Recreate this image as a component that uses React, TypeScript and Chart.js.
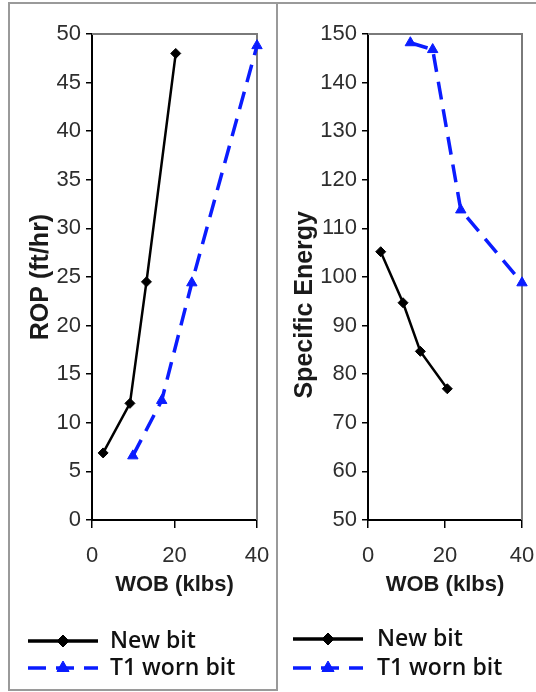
import React, { useEffect, useRef } from "react";
import { Chart, registerables } from "chart.js";

Chart.register(...registerables);

// ---- data ----
const legendLabels = ["New bit", "T1 worn bit"];
const xTickValues = [0, 20, 40];

// Left panel: ROP vs WOB
const ropNewWob = [2.7, 9.2, 13.2, 20.3];
const ropNewVal = [6.9, 12.0, 24.5, 48.0];
const ropWornWob = [9.9, 16.9, 24.2, 40.0];
const ropWornVal = [6.6, 12.3, 24.4, 48.8];
const ropTickValues = [0, 5, 10, 15, 20, 25, 30, 35, 40, 45, 50];

// Right panel: Specific Energy vs WOB
const seNewWob = [3.3, 9.1, 13.6, 20.6];
const seNewVal = [105.2, 94.7, 84.7, 77.0];
const seWornWob = [11.0, 16.8, 24.1, 40.0];
const seWornVal = [148.2, 146.8, 113.8, 98.8];
const seTickValues = [50, 60, 70, 80, 90, 100, 110, 120, 130, 140, 150];

const xTitle = "WOB (klbs)";
const ropTitle = "ROP (ft/hr)";
const seTitle = "Specific Energy";

const AXIS_FONT = "'Liberation Sans', Arial, sans-serif";
const TICK_COLOR = "#2e2e2e";
const BLUE = "#0a1cff";

const toPts = (xs: number[], ys: number[]) => xs.map((x, i) => ({ x, y: ys[i] }));

const boxPlugin = {
  id: "plotBox",
  beforeDatasetsDraw(chart: any) {
    const { ctx, chartArea } = chart;
    ctx.save();
    ctx.strokeStyle = "#7a7a7a";
    ctx.lineWidth = 2;
    ctx.beginPath();
    ctx.moveTo(chartArea.left, chartArea.top);
    ctx.lineTo(chartArea.right, chartArea.top);
    ctx.lineTo(chartArea.right, chartArea.bottom);
    ctx.stroke();
    ctx.restore();
  },
};

function drawMarker(ctx: CanvasRenderingContext2D, style: string, r: number, x: number, y: number, color: string) {
  ctx.save();
  ctx.fillStyle = color;
  ctx.strokeStyle = color;
  ctx.lineWidth = 1;
  ctx.beginPath();
  if (style === "rectRot") {
    ctx.moveTo(x, y - r);
    ctx.lineTo(x + r, y);
    ctx.lineTo(x, y + r);
    ctx.lineTo(x - r, y);
  } else {
    ctx.moveTo(x, y - r);
    ctx.lineTo(x + r * 0.866, y + r * 0.5);
    ctx.lineTo(x - r * 0.866, y + r * 0.5);
  }
  ctx.closePath();
  ctx.fill();
  ctx.stroke();
  ctx.restore();
}

const legendPlugin = {
  id: "manualLegend",
  afterDraw(chart: any, _args: any, opts: any) {
    const ctx = chart.ctx as CanvasRenderingContext2D;
    chart.data.datasets.forEach((ds: any, i: number) => {
      const y = opts.rows[i];
      ctx.save();
      ctx.strokeStyle = ds.borderColor;
      ctx.lineWidth = 3.5;
      ctx.setLineDash(ds.borderDash || []);
      ctx.beginPath();
      ctx.moveTo(opts.x1, y);
      ctx.lineTo(opts.x2, y);
      ctx.stroke();
      ctx.setLineDash([]);
      ctx.restore();
      drawMarker(ctx, ds.pointStyle, ds.pointRadius + 1, (opts.x1 + opts.x2) / 2, y, ds.borderColor);
      ctx.save();
      ctx.font = "600 23px 'Open Sans', sans-serif";
      ctx.fillStyle = "#111";
      ctx.textBaseline = "middle";
      ctx.textAlign = "left";
      ctx.fillText(ds.label, opts.tx, y);
      ctx.restore();
    });
  },
};

type PanelSpec = {
  newX: number[];
  newY: number[];
  wornX: number[];
  wornY: number[];
  yMin: number;
  yMax: number;
  yTicks: number[];
  yTitle: string;
  yAxisWidth: number;
  yTitlePad: number;
  padRight: number;
  legend: { x1: number; x2: number; tx: number; rows: number[] };
};

function makeConfig(p: PanelSpec): any {
  return {
    type: "line",
    data: {
      datasets: [
        {
          label: legendLabels[0],
          data: toPts(p.newX, p.newY),
          borderColor: "#000",
          backgroundColor: "#000",
          borderWidth: 2.5,
          pointStyle: "rectRot",
          pointRadius: 5,
          pointBorderWidth: 1,
          tension: 0,
          clip: false,
        },
        {
          label: legendLabels[1],
          data: toPts(p.wornX, p.wornY),
          borderColor: BLUE,
          backgroundColor: BLUE,
          borderWidth: 3.5,
          borderDash: [18, 10],
          pointStyle: "triangle",
          pointRadius: 6,
          pointBorderWidth: 1,
          tension: 0,
          clip: false,
        },
      ],
    },
    options: {
      responsive: false,
      animation: false,
      events: [],
      layout: { padding: { left: 0, top: 34, right: p.padRight, bottom: 82 } },
      plugins: {
        legend: { display: false },
        tooltip: { enabled: false },
        manualLegend: p.legend,
      },
      scales: {
        x: {
          type: "linear",
          min: 0,
          max: 40,
          afterBuildTicks: (s: any) => {
            s.ticks = xTickValues.map((v) => ({ value: v }));
          },
          afterFit: (s: any) => {
            s.height = 90;
            s.paddingLeft = 0;
            s.paddingRight = 0;
          },
          border: { display: true, color: "#000", width: 2 },
          grid: { display: true, drawOnChartArea: false, drawTicks: true, tickLength: 8, color: "#000", lineWidth: 1.5 },
          ticks: {
            padding: 15,
            color: TICK_COLOR,
            font: { family: AXIS_FONT, size: 22 },
            maxRotation: 0,
          },
          title: {
            display: true,
            text: xTitle,
            color: "#1a1a1a",
            font: { family: AXIS_FONT, size: 22, weight: "bold" },
            padding: { top: 0, bottom: 12 },
          },
        },
        y: {
          type: "linear",
          min: p.yMin,
          max: p.yMax,
          afterBuildTicks: (s: any) => {
            s.ticks = p.yTicks.map((v) => ({ value: v }));
          },
          afterFit: (s: any) => {
            s.width = p.yAxisWidth;
            s.paddingTop = 0;
            s.paddingBottom = 0;
          },
          border: { display: true, color: "#000", width: 2 },
          grid: { display: true, drawOnChartArea: false, drawTicks: true, tickLength: 6, color: "#000", lineWidth: 1.5 },
          ticks: {
            padding: 5,
            color: TICK_COLOR,
            font: { family: AXIS_FONT, size: 22 },
          },
          title: {
            display: true,
            text: p.yTitle,
            color: "#1a1a1a",
            font: { family: AXIS_FONT, size: 25, weight: "bold" },
            padding: { top: p.yTitlePad, bottom: 0 },
          },
        },
      },
    },
    plugins: [boxPlugin, legendPlugin],
  };
}

const leftSpec: PanelSpec = {
  newX: ropNewWob,
  newY: ropNewVal,
  wornX: ropWornWob,
  wornY: ropWornVal,
  yMin: 0,
  yMax: 50,
  yTicks: ropTickValues,
  yTitle: ropTitle,
  yAxisWidth: 92,
  yTitlePad: 26,
  padRight: 21,
  legend: { x1: 28, x2: 98, tx: 110, rows: [641, 668] },
};

const rightSpec: PanelSpec = {
  newX: seNewWob,
  newY: seNewVal,
  wornX: seWornWob,
  wornY: seWornVal,
  yMin: 50,
  yMax: 150,
  yTicks: seTickValues,
  yTitle: seTitle + "        ",
  yAxisWidth: 90,
  yTitlePad: 12,
  padRight: 14,
  legend: { x1: 15, x2: 85, tx: 99, rows: [639, 668] },
};

function Panel({ spec, left, width }: { spec: PanelSpec; left: number; width: number }) {
  const ref = useRef<HTMLCanvasElement | null>(null);
  useEffect(() => {
    if (!ref.current) return;
    const chart = new Chart(ref.current, makeConfig(spec));
    return () => chart.destroy();
  }, [spec]);
  return (
    <canvas
      ref={ref}
      width={width}
      height={692}
      style={{ position: "absolute", left, top: 0, width, height: 692 }}
    />
  );
}

export default function App() {
  return (
    <div
      style={{
        position: "absolute",
        left: 0,
        top: 0,
        width: 536,
        height: 692,
        background: "#fff",
        overflow: "hidden",
      }}
    >
      <Panel spec={leftSpec} left={0} width={278} />
      <Panel spec={rightSpec} left={278} width={258} />
      <div
        style={{
          position: "absolute",
          left: 8,
          top: 2,
          width: 266,
          height: 685,
          border: "2px solid #9a9a9a",
          pointerEvents: "none",
        }}
      />
      <div
        style={{
          position: "absolute",
          left: 276,
          top: 2,
          width: 270,
          height: 0,
          borderTop: "2px solid #9a9a9a",
          pointerEvents: "none",
        }}
      />
    </div>
  );
}
